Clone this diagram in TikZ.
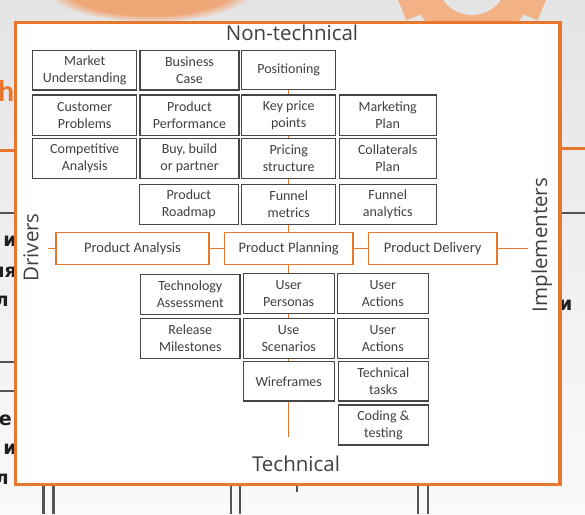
\documentclass[tikz,border=0pt]{standalone}
\usepackage{fontspec}
\setmainfont{Carlito}
\newfontfamily\labfont{Open Sans}
\newfontfamily\fragfont{DejaVu Sans}
\usetikzlibrary{fadings}
\definecolor{frameor}{RGB}{232,119,46}
\definecolor{txtgray}{RGB}{64,64,64}
\definecolor{boxgray}{RGB}{70,70,70}
\definecolor{gearor}{RGB}{242,178,134}
\definecolor{bgtop}{RGB}{228,228,228}
\definecolor{bgbot}{RGB}{250,250,250}
\definecolor{decogray}{RGB}{85,85,85}
\pgfdeclarelayer{back}
\pgfdeclarelayer{mid}
\pgfsetlayers{back,mid,main}
\tikzset{
  gbox/.style={draw=boxgray, line width=1.1pt, fill=white, align=center, inner sep=0pt,
    text=txtgray, font=\fontsize{14}{17}\selectfont},
  obox/.style={draw=frameor, line width=1.3pt, fill=white, align=center, inner sep=0pt,
    text=txtgray, font=\fontsize{14.5}{17}\selectfont, minimum height=32pt},
  colA/.style={minimum width=104pt},
  colB/.style={minimum width=99pt},
  colC/.style={minimum width=94.3pt},
  colD/.style={minimum width=96.7pt},
  colBB/.style={minimum width=99.3pt},
  colCC/.style={minimum width=91pt},
  colDD/.style={minimum width=91pt},
  rowh/.style={minimum height=40pt},
  oline/.style={draw=frameor, line width=1pt},
  side/.style={text=txtgray, font=\labfont\fontsize{20.5}{24}\selectfont, inner sep=0pt},
  frag/.style={text=black!88, font=\fragfont\bfseries\fontsize{19}{22}\selectfont, inner sep=0pt},
  dline/.style={draw=decogray, line width=2.6pt},
  oband/.style={draw=frameor, line width=3pt},
}
\begin{document}
\begin{tikzpicture}[x=1pt,y=-1pt]
\useasboundingbox (0,0) rectangle (585,514);
\clip (0,0) rectangle (585,514);

\begin{pgfonlayer}{back}
  % background
  \shade[top color=bgtop, bottom color=bgbot] (0,0) rectangle (585,514);
  % orange glow top left
  \fill[frameor!65!white, path fading=circle with fuzzy edge 20 percent] (150,-12) ellipse (105 and 34);
  % gear top right
  \begin{scope}[shift={(472,-20)}]
    \fill[gearor] (0,0) circle (62);
    \foreach \a in {22.5,67.5,...,337.5}
      \fill[gearor, rotate=\a] (0,-12) rectangle (76,12);
    \fill[bgtop] (0,0) circle (35);
  \end{scope}
  % fragments at the left
  \node[anchor=base east, text=frameor, font=\bfseries\fontsize{30}{32}\selectfont, inner sep=0pt] (hh) at (14.5,101) {h};
  \draw[oband] (0,150) -- (16,150);
  \draw[oband] (560,148.3) -- (585,148.3);
  \draw[dline] (0,213) -- (16,213);
  \draw[dline] (0,362) -- (16,362);
  \draw[dline] (0,391) -- (16,391);
  \draw[dline] (560,213) -- (585,213);
  \node[frag, anchor=base east] (f1) at (17,246) {и};
  \node[frag, anchor=base east] (f2) at (17,277) {ия};
  \node[frag, anchor=base east] (f3) at (9,306) {л};
  \node[frag, anchor=base east] (f4) at (12,425) {е};
  \node[frag, anchor=base east] (f5) at (17,454) {и};
  \node[frag, anchor=base east] (f6) at (9,484) {л};
  \node[frag, anchor=base west] (f7) at (559,310) {и};
  % bottom double lines
  \foreach \xx in {43.3,53.3,231,240,418,428}
    \draw[draw=decogray, line width=2.8pt] (\xx,484) -- (\xx,514);
  \draw[draw=decogray, line width=1.2pt] (297,484) -- (297,492);
  % main frame
  \draw[draw=frameor, line width=3.3pt, fill=white] (15.7,22.3) rectangle (560,484.3);
\end{pgfonlayer}

% upper boxes
\node[gbox, colA, minimum height=39.3pt] (mu) at (84.7,70.3) {Market\\Understanding};
\node[gbox, colB, minimum height=39.3pt] (bc) at (189.5,70.3) {Business\\Case};
\node[gbox, colC, minimum height=38.3pt] (pos) at (288.7,69.9) {Positioning};

\node[gbox, colA, minimum height=40.7pt] (cp) at (84.7,115.3) {Customer\\Problems};
\node[gbox, colB, minimum height=40.7pt] (pp) at (189.5,115.3) {Product\\Performance};
\node[gbox, colC, minimum height=40.7pt] (kp) at (288.7,115.3) {Key price\\points};
\node[gbox, colD, minimum height=40.7pt] (mp) at (387.7,115.3) {Marketing\\Plan};

\node[gbox, colA, rowh] (ca) at (84.7,158.3) {Competitive\\Analysis};
\node[gbox, colB, rowh] (bb) at (189.5,158.3) {Buy, build\\or partner};
\node[gbox, colC, rowh] (ps) at (288.7,158.3) {Pricing\\structure};
\node[gbox, colD, rowh] (cl) at (387.7,158.3) {Collaterals\\Plan};

\node[gbox, colB, minimum height=40.3pt] (pr) at (188.8,204.2) {Product\\Roadmap};
\node[gbox, colC, minimum height=40.3pt] (fm) at (288.7,204.2) {Funnel\\metrics};
\node[gbox, colD, minimum height=40.3pt] (fa) at (387.7,204.2) {Funnel\\analytics};

% middle row
\node[obox, minimum width=153pt] (pa) at (132.5,248.5) {Product Analysis};
\node[obox, minimum width=128.5pt] (pl) at (288.7,248.5) {Product Planning};
\node[obox, minimum width=128.5pt] (pd) at (432.75,248.5) {Product Delivery};

% lower boxes
\node[gbox, colBB, rowh] (ta) at (190.3,294.3) {Technology\\Assessment};
\node[gbox, colCC, rowh] (up) at (288.7,293.3) {User\\Personas};
\node[gbox, colDD, rowh] (ua) at (382.8,293.3) {User\\Actions};

\node[gbox, colBB, rowh] (rm) at (190.3,338.3) {Release\\Milestones};
\node[gbox, colCC, rowh] (us) at (288.7,338.3) {Use\\Scenarios};
\node[gbox, colDD, rowh] (ub) at (382.8,338.3) {User\\Actions};

\node[gbox, colCC, minimum height=39.3pt] (wf) at (288.7,381.3) {Wireframes};
\node[gbox, minimum width=90pt, minimum height=39.3pt] (tt) at (383.3,381.3) {Technical\\tasks};
\node[gbox, minimum width=90pt, rowh] (ct) at (383.3,425) {Coding \&\\testing};

% connectors
\coordinate (lstub) at (48.3,248.5);
\coordinate (rstub) at (528.3,248.5);
\coordinate (vbot) at (288.7,437);
\begin{pgfonlayer}{mid}
  \draw[oline] (lstub) -- (pa.west);
  \draw[oline] (pa.east) -- (pl.west);
  \draw[oline] (pl.east) -- (pd.west);
  \draw[oline] (pd.east) -- (rstub);
  \draw[oline] (pos.south) -- (kp.north);
  \draw[oline] (kp.south) -- (ps.north);
  \draw[oline] (ps.south) -- (fm.north);
  \draw[oline] (fm.south) -- (pl.north);
  \draw[oline] (pl.south) -- (up.north);
  \draw[oline] (up.south) -- (us.north);
  \draw[oline] (us.south) -- (wf.north);
  \draw[oline] (wf.south) -- (vbot);
\end{pgfonlayer}

% axis labels
\node[side, anchor=base] (nt) at (292,40.7) {Non-technical};
\node[side, anchor=base] (tc) at (296,471.7) {Technical};
\node[side, anchor=base, rotate=90] (dr) at (38.3,247.5) {Drivers};
\node[side, anchor=base, rotate=90] (im) at (547,245) {Implementers};
\end{tikzpicture}
\end{document}
